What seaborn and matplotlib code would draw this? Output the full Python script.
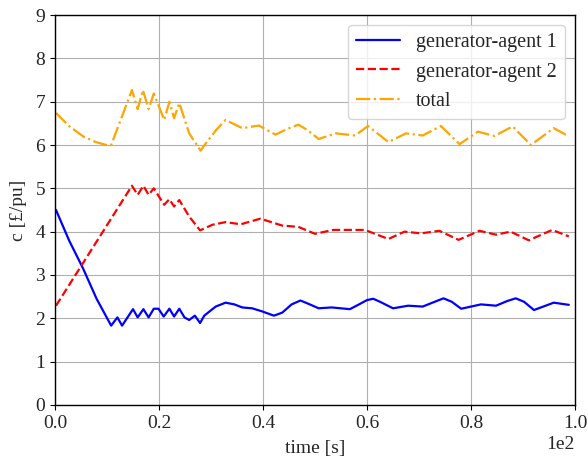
import numpy as np
import pandas as pd
import matplotlib
matplotlib.use("Agg")
import matplotlib.pyplot as plt
import seaborn as sns

# ===============================
# Data
# ===============================
t_agent1 = [0.2, 2.7, 5.4, 8.0, 10.8, 12.0, 12.9, 15.0, 15.9, 17.0, 18.0, 19.0, 19.9,
            20.9, 22.0, 22.9, 23.9, 24.9, 25.8, 26.9, 27.9, 28.7, 30.9, 32.8, 34.5,
            36.0, 37.9, 39.8, 42.1, 43.7, 45.5, 47.2, 48.8, 50.7, 53.2, 56.7, 58.3,
            60.0, 61.2, 62.5, 65.0, 67.9, 70.7, 73.0, 74.7, 76.3, 78.1, 81.9, 84.8,
            87.0, 88.6, 90.2, 92.1, 95.9, 98.8]
c_agent1 = [4.50, 3.80, 3.15, 2.45, 1.83, 2.02, 1.83, 2.21, 2.02, 2.21, 2.02, 2.22, 2.22,
            2.04, 2.22, 2.04, 2.22, 2.02, 1.96, 2.06, 1.89, 2.06, 2.27, 2.36, 2.32,
            2.25, 2.23, 2.16, 2.06, 2.13, 2.32, 2.41, 2.33, 2.23, 2.25, 2.21, 2.31,
            2.42, 2.45, 2.38, 2.23, 2.29, 2.27, 2.38, 2.46, 2.38, 2.22, 2.32, 2.29,
            2.40, 2.46, 2.38, 2.19, 2.36, 2.31]

t_agent2 = [0.2, 14.8, 15.9, 17.0, 18.0, 19.0, 21.0, 22.0, 22.9, 23.9, 25.8, 27.9,
            30.3, 32.8, 35.7, 39.5, 43.7, 46.8, 50.0, 53.5, 56.4, 59.6, 64.1, 67.2,
            70.4, 73.9, 77.6, 81.6, 84.8, 87.6, 91.1, 95.6, 98.8]
c_agent2 = [2.29, 5.06, 4.85, 5.06, 4.85, 5.00, 4.62, 4.75, 4.58, 4.73, 4.35, 4.03,
            4.16, 4.22, 4.17, 4.30, 4.14, 4.11, 3.95, 4.04, 4.04, 4.04, 3.83, 4.00,
            3.96, 4.02, 3.81, 4.02, 3.93, 4.00, 3.80, 4.04, 3.89]

t_total = [0.2, 2.7, 5.4, 7.8, 9.9, 10.8, 14.8, 15.9, 16.9, 18.0, 19.0, 21.0, 22.0,
           22.9, 23.9, 25.8, 28.0, 29.0, 31.0, 32.8, 36.0, 39.2, 42.4, 44.8, 46.8,
           48.5, 50.7, 54.0, 57.7, 60.2, 64.1, 67.5, 70.7, 74.2, 77.8, 81.3, 84.5,
           88.0, 91.5, 95.9, 98.8]
c_total = [6.74, 6.44, 6.20, 6.07, 6.00, 6.00, 7.27, 6.83, 7.27, 6.83, 7.19, 6.58, 7.00,
           6.62, 6.97, 6.27, 5.87, 6.04, 6.35, 6.58, 6.39, 6.45, 6.24, 6.38, 6.47,
           6.35, 6.14, 6.27, 6.22, 6.44, 6.07, 6.27, 6.22, 6.44, 6.02, 6.31, 6.21,
           6.43, 6.00, 6.39, 6.20]

series_labels = ["generator-agent 1", "generator-agent 2", "total"]

# ===============================
# Style
# ===============================
sns.set_style("whitegrid", {"axes.edgecolor": "black", "grid.color": "#b0b0b0",
                            "xtick.bottom": True, "ytick.left": True})
plt.rcParams["font.family"] = ["Liberation Serif", "DejaVu Serif"]
plt.rcParams["font.size"] = 14

fig, ax = plt.subplots(figsize=(5.88, 4.58), dpi=100)
fig.subplots_adjust(left=0.0935, right=0.978, top=0.967, bottom=0.116)

sns.lineplot(x=t_agent1, y=c_agent1, ax=ax, color="blue", linestyle="-",
             linewidth=1.6, label=series_labels[0])
sns.lineplot(x=t_agent2, y=c_agent2, ax=ax, color="red", linestyle="--",
             linewidth=1.6, label=series_labels[1])
sns.lineplot(x=t_total, y=c_total, ax=ax, color="orange", linestyle="-.",
             linewidth=1.6, label=series_labels[2])

ax.set_xlim(0, 100)
ax.set_ylim(0, 9)
ax.set_xticks(np.arange(0, 101, 20))
ax.set_yticks(np.arange(0, 10, 1))
ax.ticklabel_format(axis="x", style="sci", scilimits=(0, 0), useMathText=False)
ax.xaxis.get_offset_text().set_fontsize(14)
ax.set_xlabel("time [s]", labelpad=6)
ax.set_ylabel("c [£/pu]", labelpad=6)
for sp in ax.spines.values():
    sp.set_color("black")
    sp.set_linewidth(1.0)
ax.tick_params(axis="both", direction="out", length=3.5, width=0.8, color="black", pad=3.5)

ax.legend(loc="upper right", handlelength=2.2, fontsize=14.5, framealpha=0.8)

plt.savefig("out.png", dpi=100)
plt.close()
